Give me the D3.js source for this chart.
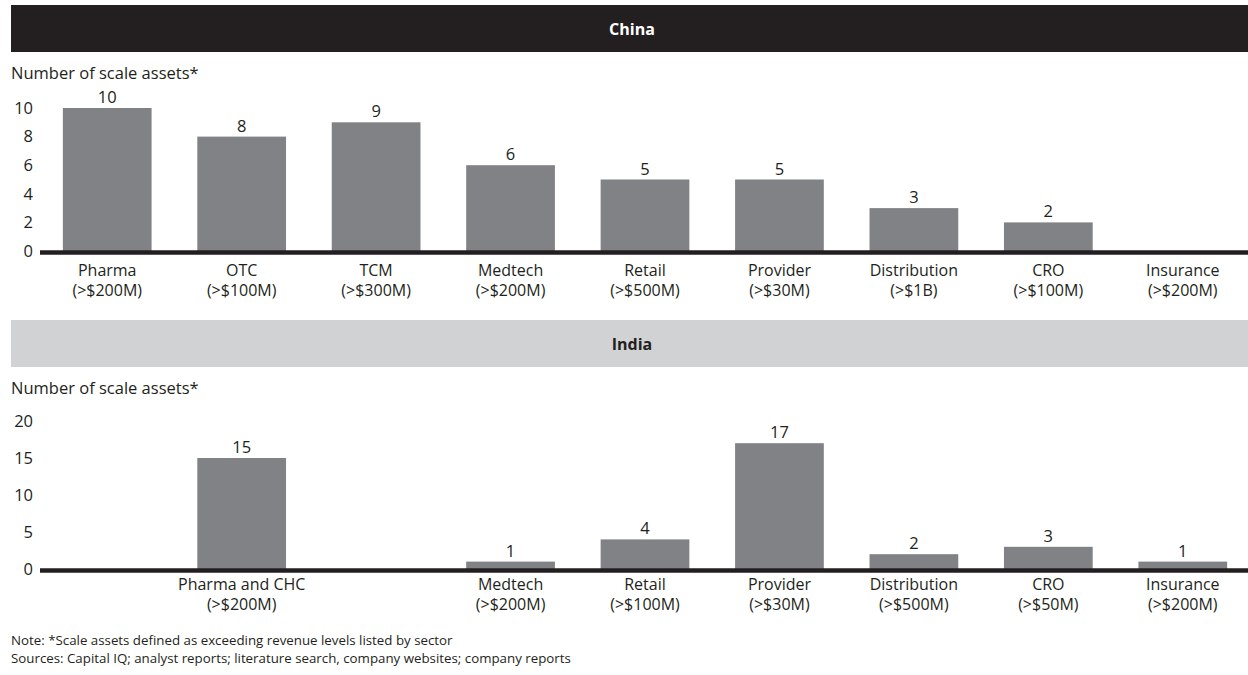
<!DOCTYPE html>
<html><head><meta charset="utf-8">
<script src="https://cdn.jsdelivr.net/npm/d3@7"></script>
<style>
html,body{margin:0;padding:0;background:#fff;}
svg{display:block;font-family:"Open Sans","Noto Sans",sans-serif;}
</style></head>
<body>
<svg id="chart" width="1248" height="675"></svg>
<script>
// ---- Data ----
const chinaCategories = ["Pharma","OTC","TCM","Medtech","Retail","Provider","Distribution","CRO","Insurance"];
const chinaThresholds = ["(>$200M)","(>$100M)","(>$300M)","(>$200M)","(>$500M)","(>$30M)","(>$1B)","(>$100M)","(>$200M)"];
const chinaValues = [10, 8, 9, 6, 5, 5, 3, 2, 0];
const chinaTicks = [0, 2, 4, 6, 8, 10];

const indiaSlots = ["", "Pharma and CHC", " ", "Medtech", "Retail", "Provider", "Distribution", "CRO", "Insurance"];
const indiaCategories = ["Pharma and CHC","Medtech","Retail","Provider","Distribution","CRO","Insurance"];
const indiaThresholds = ["(>$200M)","(>$200M)","(>$100M)","(>$30M)","(>$500M)","(>$50M)","(>$200M)"];
const indiaValues = [15, 1, 4, 17, 2, 3, 1];
const indiaTicks = [0, 5, 10, 15, 20];

const yTitle = "Number of scale assets*";
const noteLines = [
  "Note: *Scale assets defined as exceeding revenue levels listed by sector",
  "Sources: Capital IQ; analyst reports; literature search, company websites; company reports"
];

// ---- Drawing ----
const svg = d3.select("#chart");
const TXT = "#231f20", BAR = "#808285";
const FONT = "'Open Sans', 'Noto Sans', sans-serif";

function panel(opts) {
  const g = svg.append("g");
  g.append("rect").attr("x", 11).attr("y", opts.bandTop).attr("width", 1248 - 11).attr("height", 47)
    .attr("fill", opts.bandFill);
  g.append("text").attr("x", 632).attr("y", opts.bandTop + 23.5).attr("text-anchor", "middle")
    .attr("dominant-baseline", "central").attr("font-weight", "bold").attr("font-size", 16)
    .attr("fill", opts.bandText).text(opts.title);
  g.append("text").attr("x", 11).attr("y", opts.bandTop + 68 + 6).attr("font-size", 16.5)
    .attr("fill", TXT).text(yTitle);

  const x = d3.scaleBand().domain(opts.slots).range([40, 1250]).paddingInner(0.34).paddingOuter(0.17);
  const y = d3.scaleLinear().domain(opts.domain).range(opts.yRange);

  const ya = g.append("g").attr("transform", "translate(40,0)")
    .call(d3.axisLeft(y).tickValues(opts.ticks).tickSize(0).tickPadding(7).tickFormat(d3.format("d")));
  ya.select(".domain").remove();
  ya.selectAll("text").attr("font-size", 16.5).attr("fill", TXT).attr("font-family", FONT);

  const data = opts.cats.map((c, i) => ({c, v: opts.values[i], t: opts.thresholds[i]}));
  g.selectAll("rect.bar").data(data.filter(d => d.v > 0)).join("rect").attr("class", "bar")
    .attr("x", d => x(d.c)).attr("width", x.bandwidth())
    .attr("y", d => y(d.v)).attr("height", d => y(0) - y(d.v)).attr("fill", BAR);
  g.selectAll("text.val").data(data.filter(d => d.v > 0)).join("text").attr("class", "val")
    .attr("x", d => x(d.c) + x.bandwidth() / 2).attr("y", d => y(d.v) - 5)
    .attr("text-anchor", "middle").attr("font-size", 16.5).attr("fill", TXT).text(d => d.v);

  g.append("line").attr("x1", 40).attr("x2", 1248).attr("y1", y(0) + 1.5).attr("y2", y(0) + 1.5)
    .attr("stroke", TXT).attr("stroke-width", 4.5);

  const xa = g.append("g").attr("transform", `translate(0,${y(0)})`)
    .call(d3.axisBottom(x).tickValues(opts.cats).tickSize(0).tickPadding(0));
  xa.select(".domain").remove();
  xa.selectAll(".tick text").each(function(d) {
    const i = opts.cats.indexOf(d);
    const t = d3.select(this).text(null).attr("font-size", 16).attr("fill", TXT)
      .attr("font-family", FONT).attr("dy", null).attr("y", 0);
    t.append("tspan").attr("x", 0).attr("y", opts.lab1).text(d);
    t.append("tspan").attr("x", 0).attr("y", opts.lab2).text(opts.thresholds[i]);
  });
}

panel({title: "China", bandTop: 5, bandFill: "#231f20", bandText: "#ffffff",
  slots: chinaCategories, cats: chinaCategories, values: chinaValues, thresholds: chinaThresholds,
  domain: [0, 10], yRange: [251, 108], ticks: chinaTicks, lab1: 24.5, lab2: 44.5});

panel({title: "India", bandTop: 320, bandFill: "#d1d2d4", bandText: "#231f20",
  slots: indiaSlots, cats: indiaCategories, values: indiaValues, thresholds: indiaThresholds,
  domain: [0, 20], yRange: [569, 421], ticks: indiaTicks, lab1: 21, lab2: 41});

svg.append("g").selectAll("text").data(noteLines).join("text")
  .attr("x", 11).attr("y", (d, i) => 645 + i * 18).attr("font-size", 13.3).attr("fill", TXT).text(d => d);
</script>
</body></html>
